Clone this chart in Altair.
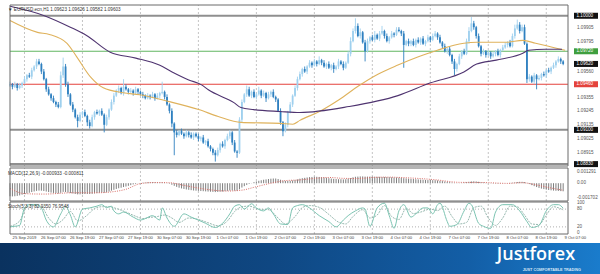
import altair as alt
import pandas as pd

BASE = 1.08800
PIP = 0.0001

# ---------------- price data: H1 closes in pips above 1.08800 ----------------
first_open = 65
closes = [
    66, 64, 66, 63, 65, 67,
    70, 73, 72, 77, 80, 84,
    82, 76, 70,
    62, 58, 55, 52,
    50, 48,
    73, 80, 66,
    58, 50, 46, 40, 37,
    42, 44, 41,
    36, 33,
    40, 44, 43, 45, 42,
    34,
    40, 46, 52, 57, 61,
    63, 59, 64, 62,
    60, 61, 59, 62, 60, 58, 57, 55,
    57, 56, 58, 55, 57, 59,
    60,
    56, 50, 45,
    35, 28, 26, 29,
    27, 25, 28, 26, 24, 27, 25, 23,
    24, 20, 21, 17, 15, 12,
    10,
    14, 19, 17, 22, 25, 28,
    20, 13, 12,
    38, 52, 58, 62,
    57, 60, 56, 58, 61, 57, 59, 55, 58, 60, 56, 54,
    45, 36, 29,
    34, 44, 50, 57, 63, 70,
    74, 78, 76, 80, 83, 81, 84, 82, 85, 83, 80, 82,
    79, 81, 78, 80, 84, 82, 79, 83,
    90, 100, 108, 112,
    104, 107, 99, 92, 100, 103,
    101, 105, 102, 106, 108, 104, 100, 103, 106, 105, 109,
    108, 106, 97, 100, 98,
    100, 97, 101, 99, 102, 98, 100, 103, 101, 104, 106,
    103, 99, 96, 92, 94, 89,
    84, 78, 82,
    88, 92, 90,
    100, 108, 114, 111,
    104, 96, 90, 92,
    89, 91, 88, 90, 92, 89, 93, 95,
    97, 99, 96,
    104, 110, 113, 108, 111,
    98, 70,
    72, 68, 73, 70, 71,
    74, 73, 77, 76, 79, 81, 84, 86, 84, 82,
]
wick_hi = [
    2, 1, 2, 1, 2, 1,
    2, 1, 2, 2, 1, 2,
    2, 1, 2,
    1, 2, 1, 2,
    1, 2,
    3, 7, 2,
    2, 1, 2, 1, 2,
    2, 1, 2,
    1, 2,
    2, 1, 2, 1, 2,
    1,
    2, 1, 2, 2, 1,
    2, 1, 6, 2,
    1, 2, 1, 2, 1, 1, 2, 1,
    2, 1, 2, 1, 2, 1,
    8,
    1, 2, 1,
    2, 1, 2, 1,
    2, 1, 2, 1, 2, 1, 1, 2,
    1, 2, 1, 2, 1, 1,
    2,
    2, 1, 2, 1, 2, 2,
    1, 2, 1,
    2, 2, 1, 3,
    2, 1, 2, 1, 3, 1, 2, 1, 2, 1, 2, 1,
    1, 2, 1,
    2, 1, 2, 1, 2, 2,
    2, 1, 2, 1, 2, 1, 2, 1, 3, 1, 2, 1,
    2, 1, 2, 1, 2, 1, 2, 1,
    2, 3, 2, 6,
    2, 3, 1, 2, 2, 1,
    2, 3, 1, 2, 4, 1, 2, 1, 2, 1, 2,
    2, 1, 2, 1, 2,
    1, 2, 1, 2, 1, 2, 1, 2, 1, 2, 2,
    1, 2, 1, 2, 1, 2,
    1, 2, 1,
    2, 1, 2,
    2, 3, 5, 2,
    1, 2, 1, 2,
    1, 2, 1, 2, 1, 2, 1, 2,
    2, 1, 2,
    2, 3, 4, 2, 2,
    2, 1,
    2, 1, 2, 1, 2,
    1, 2, 1, 2, 1, 2, 1, 2, 1, 1,
]
wick_lo = [
    1, 2, 1, 2, 1, 2,
    1, 2, 1, 2, 1, 2,
    1, 2, 1,
    2, 1, 2, 1,
    2, 1,
    1, 2, 2,
    2, 1, 2, 1, 5,
    1, 2, 1,
    3, 2,
    1, 2, 1, 2, 1,
    6,
    1, 2, 1, 2, 1,
    2, 1, 2, 1,
    2, 1, 2, 1, 2, 1, 2, 1,
    1, 2, 1, 2, 1, 2,
    1,
    2, 1, 2,
    3, 18, 2, 1,
    1, 2, 1, 2, 1, 2, 1, 2,
    2, 1, 2, 1, 2, 2,
    5,
    1, 2, 1, 2, 1, 2,
    2, 1, 4,
    1, 2, 1, 2,
    1, 2, 1, 2, 1, 2, 1, 3, 1, 2, 1, 2,
    1, 2, 4,
    1, 2, 1, 2, 1, 2,
    1, 2, 1, 2, 1, 2, 1, 2, 1, 2, 1, 2,
    1, 2, 3, 1, 2, 1, 2, 1,
    1, 2, 1, 2,
    1, 2, 1, 8, 1, 2,
    1, 2, 1, 2, 1, 2, 1, 2, 1, 2, 1,
    1, 2, 18, 1, 2,
    2, 1, 2, 1, 2, 1, 2, 1, 2, 1, 1,
    2, 1, 2, 1, 2, 1,
    2, 5, 2,
    1, 2, 1,
    1, 2, 1, 2,
    2, 1, 2, 1,
    2, 1, 2, 1, 2, 1, 2, 1,
    1, 2, 1,
    1, 2, 1, 2, 1,
    1, 3,
    2, 1, 2, 8, 1,
    2, 1, 2, 1, 2, 1, 2, 1, 2, 1,
]

# moving averages (bar index, pips above 1.08800)
ma_fast_i = [0, 11.4, 16.3, 23.6, 27.7, 33.3, 38.6, 46.8, 53.7, 65.9, 78.1, 86.2, 95.6, 111.8, 117.1,
             120, 128.1, 136.2, 144.4, 152.5, 160.6, 168.8, 176.9, 187.9, 193.2, 205.4, 212.3, 217.6, 224.5, 229.8]
ma_fast_p = [116.2, 106.9, 105.3, 98.3, 87.4, 71.8, 63.2, 59.3, 57.7, 52.3, 46.0, 40.6, 35.9, 35.1, 34.4,
             37.5, 44.5, 53.8, 64.8, 74.1, 81.1, 87.4, 92.8, 98.3, 99.1, 99.1, 100.6, 98.3, 95.2, 92.8]
ma_slow_i = [0, 14.2, 25.2, 31.7, 41.5, 52.1, 61.8, 67.1, 74.0, 79.3, 82.1, 92.7, 95.6, 100.9, 111.8,
             120, 140.3, 160.6, 174.1, 187.9, 193.2, 201.3, 212.3, 214.7, 221.6, 228.5]
ma_slow_p = [127.5, 120.1, 110.8, 104.5, 91.3, 86.6, 81.1, 75.7, 69.4, 65.5, 61.6, 51.5, 47.6, 46.0, 44.5,
             43.7, 48.4, 57.0, 67.1, 75.7, 81.9, 85.0, 90.5, 92.8, 93.6, 93.6]

# MACD histogram, units of 0.00001
macd_hist = [
    -150, -152, -150, -146, -140, -132, -125, -118, -110, -102, -95, -88,
    -85, -86, -90, -96, -102, -108, -112, -115, -118,
    -110, -100, -102,
    -108, -114, -118, -124, -128, -128, -126,
    -124, -124, -124, -122, -118, -114, -110, -108, -110,
    -104, -96, -86, -76, -66, -58, -52, -44, -38,
    -30, -22, -14, -8, -2, 2, 6, 8, 10, 12, 12, 10, 10, 8,
    10, 8, 2, -6,
    -18, -30, -42, -52, -60, -66, -72, -76, -80, -84, -86, -88,
    -90, -92, -94, -96, -98, -100, -102, -100, -98, -96, -92, -88, -84, -84, -86, -88,
    -70, -50, -34, -20, -8, 2, 12, 20, 28, 34, 40, 44, 48, 52, 54, 54,
    48, 40, 30, 26, 26, 28, 32, 38, 44,
    52, 58, 62, 66, 70, 72, 74, 74, 72, 70, 66, 62,
    58, 54, 50, 48, 46, 46, 44, 46,
    52, 60, 68, 74, 76, 78, 78, 76, 76, 76, 76, 75, 74,
    73, 72, 72, 71, 70, 68, 67, 66, 65, 62, 58, 55, 52, 50, 48, 46, 44, 42, 40, 38, 36, 36, 35, 35,
    32, 28, 24, 20, 16, 12, 8, 4, 2, 2, 4, 8, 12, 16, 20, 22,
    20, 16, 12, 8, 4, 0, -2, -4, -4, -4, -3, -2, 0, 2, 4, 6, 10,
    14, 16, 16, 12, 4,
    -10, -22, -34, -44, -54, -62, -68, -74, -78, -82, -85, -87, -89, -91, -93,
]
sig_i = [0, 6, 14, 26, 36, 42, 48, 54, 60, 66, 72, 80, 90, 96, 102, 108, 114, 120, 126, 132, 138,
         144, 150, 156, 166, 176, 186, 196, 206, 212, 218, 224, 229]
sig_v = [-60, -120, -125, -110, -110, -100, -70, -5, 8, 6, -25, -65, -90, -80, -40, 0, 30, 38, 55, 66, 56,
         54, 66, 70, 60, 40, 10, 8, -2, 6, -20, -55, -81]

# Stochastic %K and %D
k_i = [0, 2, 4, 6, 8, 11, 13, 15, 18, 21, 23, 25, 27, 30, 33, 36, 38, 40, 42, 43, 45, 47, 51, 54, 56, 59, 62,
       63, 65, 68, 72, 75, 78, 81, 85, 88, 91, 93, 95, 97, 100, 102, 105, 107, 109, 112, 115, 117, 119, 121,
       124, 128, 132, 135, 138, 140, 143, 146, 147, 149, 152, 155, 157, 159, 161, 163, 166, 168, 171, 173,
       175, 177, 178, 181, 182, 185, 188, 190, 191, 194, 196, 199, 201, 204, 208, 211, 214, 216, 219, 222,
       225, 227, 229]
k_v = [20, 22, 25, 84, 95, 95, 84, 43, 20, 64, 90, 60, 20, 80, 84, 90, 95, 85, 90, 74, 64, 70, 53, 43, 48, 58,
       43, 84, 50, 22, 64, 53, 43, 32, 18, 32, 64, 90, 95, 80, 98, 84, 74, 84, 64, 30, 28, 84, 92, 95, 84, 58,
       38, 20, 43, 58, 74, 84, 80, 22, 84, 100, 58, 15, 74, 95, 53, 64, 84, 84, 64, 95, 100, 38, 22, 28, 74,
       100, 95, 32, 22, 15, 70, 95, 95, 74, 38, 18, 25, 74, 95, 95, 83]
d_i = [0, 4, 7, 10, 13, 16, 19, 22, 25, 28, 32, 35, 38, 41, 44, 48, 52, 55, 58, 61, 64, 67, 70, 74, 78, 82, 86,
       90, 93, 96, 99, 103, 107, 111, 114, 118, 121, 124, 128, 132, 136, 139, 142, 146, 149, 152, 155, 158,
       161, 164, 167, 170, 174, 177, 180, 183, 186, 189, 192, 195, 198, 201, 204, 207, 210, 213, 216, 219,
       222, 225, 229]
d_v = [22, 40, 88, 92, 88, 50, 30, 45, 72, 40, 60, 82, 88, 88, 82, 70, 56, 48, 52, 55, 60, 50, 35, 50, 45, 34,
       24, 40, 72, 88, 90, 80, 78, 50, 30, 55, 85, 92, 86, 62, 36, 30, 55, 78, 50, 60, 92, 55, 45, 82, 65, 70,
       80, 75, 90, 55, 30, 35, 85, 90, 50, 25, 50, 90, 88, 60, 30, 28, 60, 88, 77]

time_labels = ["25 Sep 2019", "26 Sep 07:00", "26 Sep 19:00", "27 Sep 07:00", "27 Sep 19:00",
               "30 Sep 07:00", "30 Sep 19:00", "1 Oct 07:00", "1 Oct 19:00", "2 Oct 07:00",
               "2 Oct 19:00", "3 Oct 07:00", "3 Oct 19:00", "4 Oct 07:00", "4 Oct 19:00",
               "7 Oct 07:00", "7 Oct 19:00", "8 Oct 07:00", "8 Oct 19:00", "9 Oct 07:00"]
price_ticks = [1.09905, 1.09795, 1.09560, 1.09355, 1.09245, 1.09135, 1.09025, 1.08915]
gray_levels = [1.10000, 1.09100, 1.08830]
green_level = [1.09720]
red_level = [1.09460]
bid_price = [1.09620]
macd_ticks = [129.1, 0, -170.2]
macd_tick_text = ["0.001291", "0.00", "-0.001702"]
stoch_ticks = [100, 80, 20, 0]

# ---------------- data frames ----------------
opens = [first_open] + closes[:-1]
rows = []
for i, (o, c, wh, wl) in enumerate(zip(opens, closes, wick_hi, wick_lo)):
    rows.append(dict(i=i, o=BASE + o * PIP, c=BASE + c * PIP,
                     h=BASE + (max(o, c) + wh) * PIP, l=BASE + (min(o, c) - wl) * PIP,
                     up=bool(c >= o)))
cdf = pd.DataFrame(rows)
up_df = cdf[cdf.up].drop(columns="up")
dn_df = cdf[~cdf.up].drop(columns="up")

fast_df = pd.DataFrame({"i": ma_fast_i, "p": [BASE + v * PIP for v in ma_fast_p]})
slow_df = pd.DataFrame({"i": ma_slow_i, "p": [BASE + v * PIP for v in ma_slow_p]})
macd_df = pd.DataFrame({"i": list(range(len(macd_hist))), "v": macd_hist, "z": 0})
sig_df = pd.DataFrame({"i": sig_i, "v": sig_v})
k_df = pd.DataFrame({"i": k_i, "v": k_v})
d_df = pd.DataFrame({"i": d_i, "v": d_v})
tl_df = pd.DataFrame({"i": [6 + 12 * k for k in range(len(time_labels))], "t": time_labels})
grid_x = [6 + 24 * m for m in range(10)]

XMIN, XMAX = 0, 231
PMIN, PMAX = 1.08815, 1.10085
MMIN, MMAX = -204.7, 175.1
SMIN, SMAX = -4, 104

X = alt.Scale(domain=[XMIN, XMAX], range=[5, 573], nice=False, zero=False)
PY = alt.Scale(domain=[PMIN, PMAX], range=[166, 5], nice=False, zero=False)
MY = alt.Scale(domain=[MMIN, MMAX], range=[201, 168], nice=False, zero=False)
SY = alt.Scale(domain=[SMIN, SMAX], range=[234, 202], nice=False, zero=False)

FONT = "Liberation Sans"
UP_COL = "#9fd0ee"
DN_COL = "#2f80c0"


def xq(field="i"):
    return alt.X(f"{field}:Q", scale=X, axis=None)


def frame(ymin, ymax, scale):
    df = pd.DataFrame({"x0": [XMIN], "x1": [XMAX], "y0": [ymin], "y1": [ymax]})
    return alt.Chart(df).mark_rect(fill="transparent", stroke="#6b6b6b", strokeWidth=1).encode(
        x=alt.X("x0:Q", scale=X, axis=None), x2="x1:Q",
        y=alt.Y("y0:Q", scale=scale, axis=None), y2="y1:Q")


def vgrid(ymin, ymax, scale):
    df = pd.DataFrame({"g": grid_x, "y0": ymin, "y1": ymax})
    return alt.Chart(df).mark_rule(color="#b5b5b5", strokeDash=[2, 2], strokeWidth=0.8).encode(
        x=xq("g"), y=alt.Y("y0:Q", scale=scale, axis=None), y2="y1:Q")


def hlines(levels, color, width):
    df = pd.DataFrame({"p": levels, "x0": XMIN, "x1": XMAX})
    return alt.Chart(df).mark_rule(color=color, strokeWidth=width).encode(
        x=alt.X("x0:Q", scale=X, axis=None), x2="x1:Q", y=alt.Y("p:Q", scale=PY, axis=None))


def boxes(levels, color):
    df = pd.DataFrame({"p": levels, "t": [f"{v:.5f}" for v in levels]})
    box = alt.Chart(df).mark_rule(color=color, strokeWidth=6, strokeCap="butt").encode(
        x=alt.value(574), x2=alt.value(598), y=alt.Y("p:Q", scale=PY, axis=None))
    txt = alt.Chart(df).mark_text(align="left", baseline="middle", fontSize=4.6, font=FONT,
                                  color="white").encode(
        x=alt.value(576.5), y=alt.Y("p:Q", scale=PY, axis=None), text="t:N")
    return box + txt


# ---------------- main price panel ----------------
wick_up = alt.Chart(up_df).mark_rule(color=UP_COL, strokeWidth=0.9).encode(
    x=xq(), y=alt.Y("l:Q", scale=PY, axis=None), y2="h:Q")
wick_dn = alt.Chart(dn_df).mark_rule(color=DN_COL, strokeWidth=0.9).encode(
    x=xq(), y=alt.Y("l:Q", scale=PY, axis=None), y2="h:Q")
body_up = alt.Chart(up_df).mark_bar(color=UP_COL, size=1.8).encode(
    x=xq(), y=alt.Y("o:Q", scale=PY, axis=None), y2="c:Q")
body_dn = alt.Chart(dn_df).mark_bar(color=DN_COL, size=1.8).encode(
    x=xq(), y=alt.Y("o:Q", scale=PY, axis=None), y2="c:Q")
fast = alt.Chart(fast_df).mark_line(color="#dfb25c", strokeWidth=1.1, interpolate="monotone").encode(
    x=xq(), y=alt.Y("p:Q", scale=PY, axis=None))
slow = alt.Chart(slow_df).mark_line(color="#4f3470", strokeWidth=1.1, interpolate="monotone").encode(
    x=xq(), y=alt.Y("p:Q", scale=PY, axis=None))

ptick_df = pd.DataFrame({"p": price_ticks, "t": [f"{v:.5f}" for v in price_ticks]})
ptick_txt = alt.Chart(ptick_df).mark_text(align="left", baseline="middle", fontSize=4.6, font=FONT,
                                          color="#555").encode(
    x=alt.value(577), y=alt.Y("p:Q", scale=PY, axis=None), text="t:N")

price_panel = alt.layer(
    vgrid(PMIN, PMAX, PY),
    hlines(gray_levels, "#8f8f8f", 2),
    hlines(green_level, "#62b662", 1.2),
    hlines(red_level, "#e4423c", 1.2),
    wick_up, wick_dn, body_up, body_dn, fast, slow,
    frame(PMIN, PMAX, PY),
    ptick_txt,
    boxes(gray_levels, "#111111"),
    boxes(green_level, "#3f9f3f"),
    boxes(red_level, "#e4423c"),
    boxes(bid_price, "#111111"),
)

# ---------------- MACD panel ----------------
hist = alt.Chart(macd_df).mark_rule(color="#6f6f6f", strokeWidth=0.9).encode(
    x=xq(), y=alt.Y("z:Q", scale=MY, axis=None), y2="v:Q")
sig = alt.Chart(sig_df).mark_line(color="#d9706a", strokeWidth=1, strokeDash=[1, 1.3],
                                  interpolate="monotone").encode(
    x=xq(), y=alt.Y("v:Q", scale=MY, axis=None))
mt_df = pd.DataFrame({"v": macd_ticks, "t": macd_tick_text})
mt_txt = alt.Chart(mt_df).mark_text(align="left", baseline="middle", fontSize=4.6, font=FONT,
                                    color="#555").encode(
    x=alt.value(577), y=alt.Y("v:Q", scale=MY, axis=None), text="t:N")
macd_panel = alt.layer(vgrid(MMIN, MMAX, MY), hist, sig, frame(MMIN, MMAX, MY), mt_txt)

# ---------------- Stochastic panel ----------------
lvl_df = pd.DataFrame({"v": [80, 20], "x0": XMIN, "x1": XMAX})
lvls = alt.Chart(lvl_df).mark_rule(color="#9a9a9a", strokeDash=[1, 2], strokeWidth=0.8).encode(
    x=alt.X("x0:Q", scale=X, axis=None), x2="x1:Q", y=alt.Y("v:Q", scale=SY, axis=None))
kline = alt.Chart(k_df).mark_line(color="#7cc4b2", strokeWidth=1, interpolate="monotone").encode(
    x=xq(), y=alt.Y("v:Q", scale=SY, axis=None))
dline = alt.Chart(d_df).mark_line(color="#98b9b0", strokeWidth=1, strokeDash=[2, 1],
                                  interpolate="monotone").encode(
    x=xq(), y=alt.Y("v:Q", scale=SY, axis=None))
st_df = pd.DataFrame({"v": stoch_ticks, "t": [str(v) for v in stoch_ticks]})
st_txt = alt.Chart(st_df).mark_text(align="left", baseline="middle", fontSize=4.6, font=FONT,
                                    color="#555").encode(
    x=alt.value(577), y=alt.Y("v:Q", scale=SY, axis=None), text="t:N")
stoch_panel = alt.layer(vgrid(SMIN, SMAX, SY), lvls, dline, kline, frame(SMIN, SMAX, SY), st_txt)

# ---------------- decorations ----------------
tl_txt = alt.Chart(tl_df).mark_text(align="center", baseline="middle", fontSize=4.2, font=FONT,
                                    color="#444").encode(
    x=xq(), y=alt.value(237.5), text="t:N")

one = pd.DataFrame({"a": [0]})
titles = pd.DataFrame({
    "t": ["\u25bc EURUSD.ecn,H1  1.09623 1.09626 1.09582 1.09603",
          "MACD(12,26,9) -0.000933 -0.000811",
          "Stoch(5,3,3) 82.9350 76.9548"],
    "y": [9.5, 173.5, 206.5]})
title_txt = alt.Chart(titles).mark_text(align="left", baseline="middle", fontSize=4.6, font=FONT,
                                        color="#333").encode(
    x=alt.value(8), y=alt.Y("y:Q", scale=None), text="t:N")

footer = alt.Chart(one).mark_rect(
    color=alt.Gradient(gradient="linear", x1=0, x2=1, y1=0, y2=0,
                       stops=[alt.GradientStop(color="#0a325f", offset=0),
                              alt.GradientStop(color="#0f4782", offset=0.45),
                              alt.GradientStop(color="#135ea6", offset=0.78),
                              alt.GradientStop(color="#1a7ccc", offset=1)])).encode(
    x=alt.value(0), x2=alt.value(600), y=alt.value(243), y2=alt.value(274))
logo = alt.Chart(pd.DataFrame({"t": ["Justforex"]})).mark_text(
    align="center", baseline="middle", fontSize=18, font="Open Sans", fontWeight=600,
    color="white").encode(x=alt.value(536), y=alt.value(254.5), text="t:N")
tag = alt.Chart(pd.DataFrame({"t": ["JUST COMFORTABLE TRADING"]})).mark_text(
    align="right", baseline="middle", fontSize=3.8, font=FONT, fontWeight="bold",
    color="#d5e6f6").encode(x=alt.value(581), y=alt.value(270), text="t:N")

deco = alt.layer(tl_txt, title_txt, footer, logo, tag)

chart = alt.layer(price_panel, macd_panel, stoch_panel, deco).resolve_scale(
    y="independent"
).properties(
    width=600, height=274, padding=0, autosize=alt.AutoSizeParams(type="none"),
    background="white"
).configure_view(stroke=None)

chart.save("out.html", embed_options={"renderer": "svg", "actions": False})
